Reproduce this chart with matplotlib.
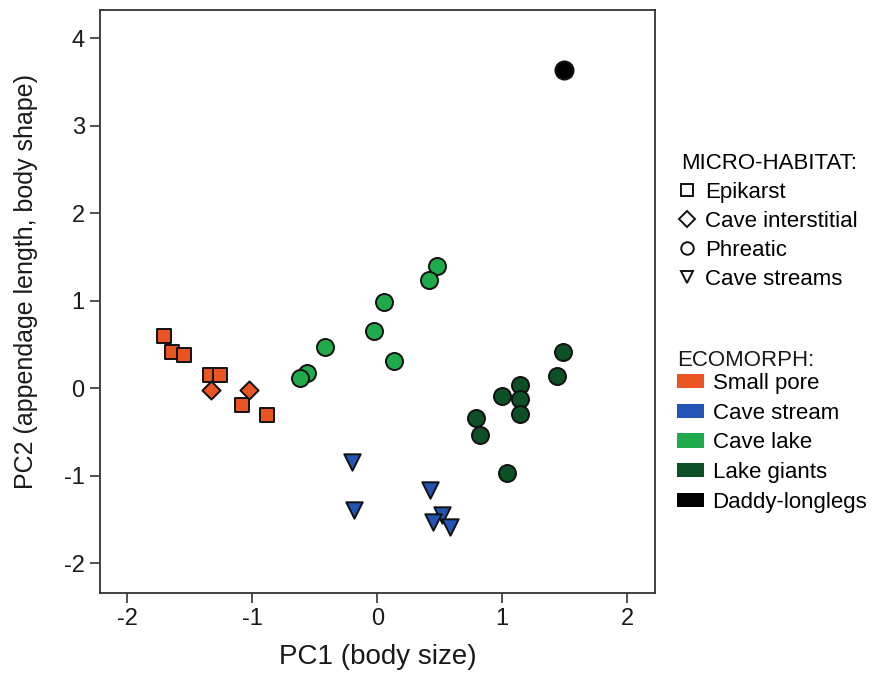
import matplotlib
matplotlib.use("Agg")
import matplotlib.pyplot as plt
from matplotlib.lines import Line2D
from matplotlib.patches import Patch

plt.rcParams['font.family'] = ['Liberation Sans', 'DejaVu Sans']
plt.rcParams['axes.unicode_minus'] = False

# ---- data (PC1, PC2) ----
small_pore_epikarst_x = [-1.71, -1.645, -1.545, -1.34, -1.26, -1.08, -0.885]
small_pore_epikarst_y = [0.60, 0.41, 0.375, 0.15, 0.15, -0.19, -0.31]
small_pore_interstitial_x = [-1.33, -1.03]
small_pore_interstitial_y = [-0.02, -0.02]
cave_stream_x = [-0.20, -0.185, 0.425, 0.52, 0.445, 0.585]
cave_stream_y = [-0.84, -1.39, -1.16, -1.45, -1.53, -1.59]
cave_lake_x = [0.475, 0.41, 0.055, -0.025, -0.42, 0.135, -0.56, -0.62]
cave_lake_y = [1.40, 1.24, 0.99, 0.65, 0.475, 0.315, 0.18, 0.115]
lake_giants_x = [1.485, 1.435, 1.14, 0.995, 1.145, 1.14, 0.79, 0.82, 1.035]
lake_giants_y = [0.42, 0.14, 0.035, -0.085, -0.125, -0.295, -0.345, -0.535, -0.965]
daddy_x = [1.49]
daddy_y = [3.64]

habitat_labels = ["Epikarst", "Cave interstitial", "Phreatic", "Cave streams"]
habitat_markers = ["s", "D", "o", "v"]
ecomorph_labels = ["Small pore", "Cave stream", "Cave lake", "Lake giants", "Daddy-longlegs"]
ecomorph_colors = ["#EA5423", "#2354B4", "#1FAA4B", "#0D5026", "#000000"]

x_ticks = [-2, -1, 0, 1, 2]
y_ticks = [-2, -1, 0, 1, 2, 3, 4]

fig = plt.figure(figsize=(8.74, 6.76), dpi=100)
ax = fig.add_axes([100/874, 83/676, 555/874, 583/676])

ec = "#111111"
lw = 1.4
ax.scatter(small_pore_epikarst_x, small_pore_epikarst_y, marker="s", s=100,
           c=ecomorph_colors[0], edgecolors=ec, linewidths=lw, zorder=3)
ax.scatter(small_pore_interstitial_x, small_pore_interstitial_y, marker="D", s=85,
           c=ecomorph_colors[0], edgecolors=ec, linewidths=lw, zorder=3)
ax.scatter(cave_stream_x, cave_stream_y, marker="v", s=140,
           c=ecomorph_colors[1], edgecolors=ec, linewidths=lw, zorder=3)
ax.scatter(cave_lake_x, cave_lake_y, marker="o", s=150,
           c=ecomorph_colors[2], edgecolors=ec, linewidths=lw, zorder=3)
ax.scatter(lake_giants_x, lake_giants_y, marker="o", s=150,
           c=ecomorph_colors[3], edgecolors=ec, linewidths=lw, zorder=3)
ax.scatter(daddy_x, daddy_y, marker="o", s=170,
           c=ecomorph_colors[4], edgecolors=ec, linewidths=lw, zorder=3)

ax.set_xlim(-2.218, 2.222)
ax.set_ylim(-2.34, 4.323)
ax.set_xticks(x_ticks)
ax.set_yticks(y_ticks)
ax.tick_params(axis='both', direction='out', length=7, width=1.2, labelsize=17,
               colors="#333333", labelcolor="#1a1a1a", pad=4)
for sp in ax.spines.values():
    sp.set_linewidth(1.3)
    sp.set_color("#333333")

ax.set_xlabel("PC1 (body size)", fontsize=20, color="#1a1a1a", labelpad=10)
ax.set_ylabel("PC2 (appendage length, body shape)", fontsize=18, color="#1a1a1a")
ax.yaxis.set_label_coords(-0.112, 0.535)

# legends
fs = 16
hab_handles = [Line2D([], [], marker=m, linestyle='none', markerfacecolor='none',
                      markeredgecolor='#111111', markeredgewidth=1.4,
                      markersize=(9 if m != 'D' else 8))
               for m in habitat_markers]
leg1 = fig.legend(hab_handles, habitat_labels, title="MICRO-HABITAT:",
                  loc='upper left', bbox_to_anchor=(681/874, 1 - 153/676),
                  frameon=False, fontsize=fs, title_fontsize=fs,
                  alignment='left', handlelength=0.5, handletextpad=0.6,
                  labelspacing=0.36, borderaxespad=0, borderpad=0)

fig.text(677/874, 1 - 361/676, "ECOMORPH:", fontsize=fs, color="#1a1a1a",
         ha='left', va='center')
eco_handles = [Patch(facecolor=c, edgecolor='none') for c in ecomorph_colors]
leg2 = fig.legend(eco_handles, ecomorph_labels,
                  loc='upper left', bbox_to_anchor=(677/874, 1 - 373/676),
                  frameon=False, fontsize=fs,
                  handlelength=1.2, handleheight=0.6,
                  handletextpad=0.4, labelspacing=0.39, borderaxespad=0, borderpad=0)

fig.savefig("out.png", dpi=100, facecolor="white")
